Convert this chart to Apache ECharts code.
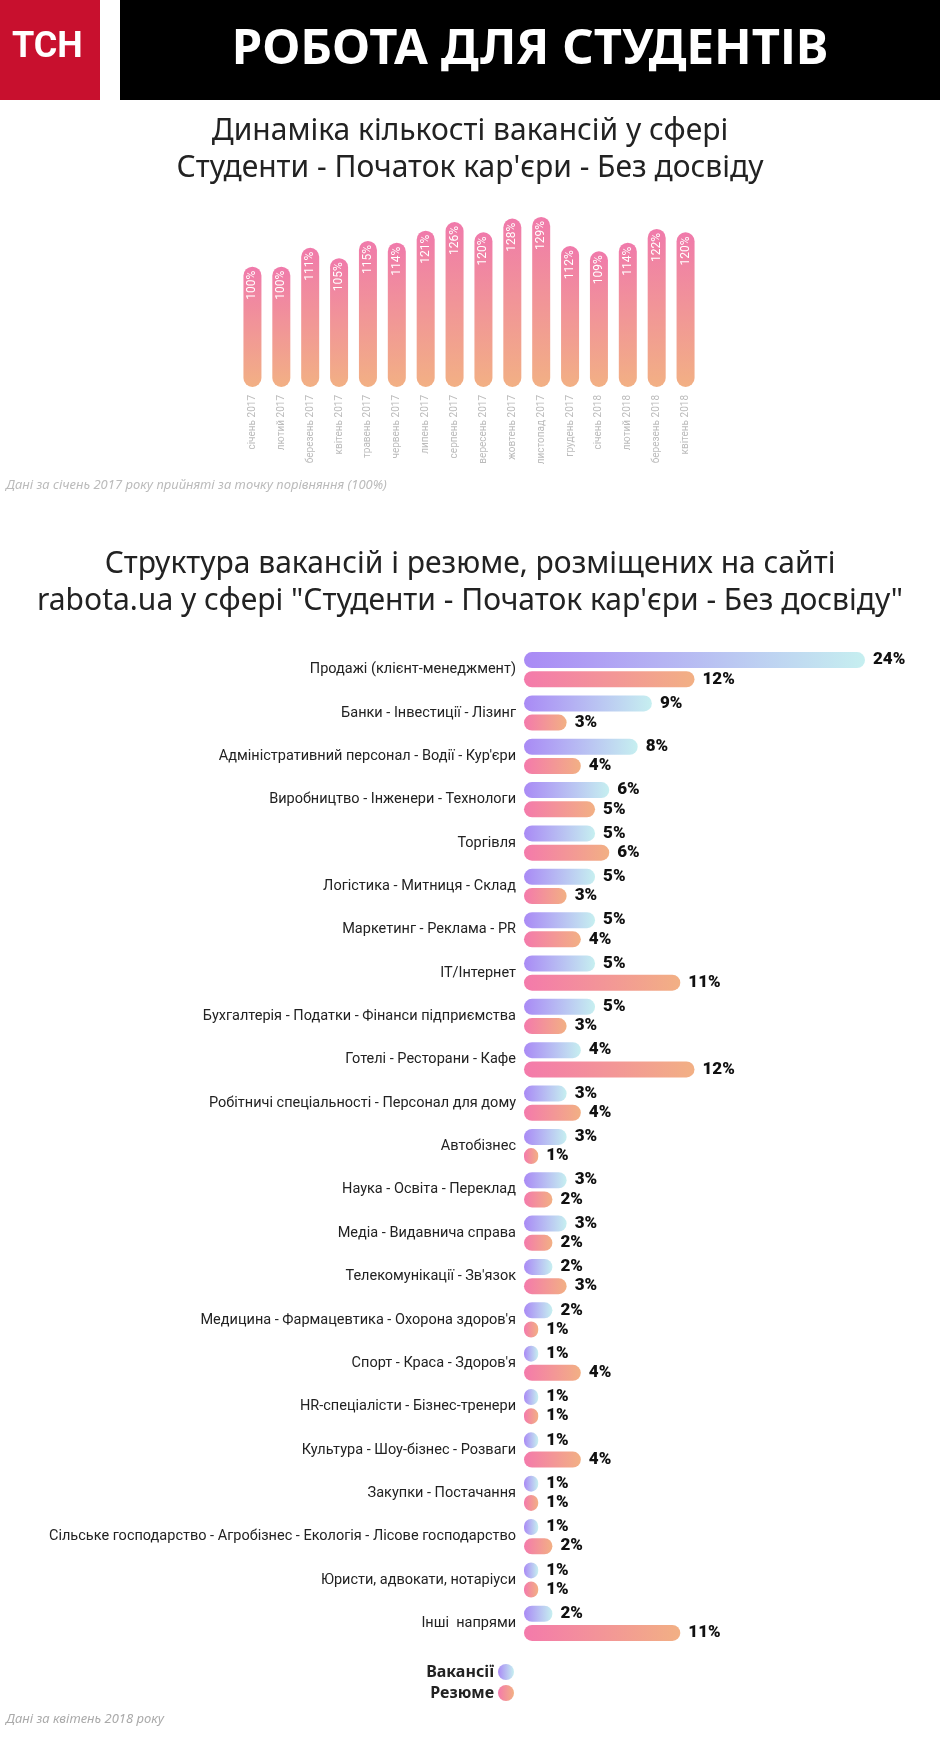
<!DOCTYPE html>
<html>
<head>
<meta charset="utf-8">
<script src="https://cdn.jsdelivr.net/npm/echarts@6/dist/echarts.min.js"></script>
<style>
  html, body { margin: 0; padding: 0; background: #fff; }
  #main { width: 940px; height: 1745px; }
</style>
</head>
<body>
<div id="main"></div>
<script>
// динаміка вакансій
var months = ['січень 2017', 'лютий 2017', 'березень 2017', 'квітень 2017', 'травень 2017', 'червень 2017',
  'липень 2017', 'серпень 2017', 'вересень 2017', 'жовтень 2017', 'листопад 2017', 'грудень 2017',
  'січень 2018', 'лютий 2018', 'березень 2018', 'квітень 2018']
var dynamics = [100, 100, 111, 105, 115, 114, 121, 126, 120, 128, 129, 112, 109, 114, 122, 120]

// структура вакансій і резюме
var spheres = ['Продажі (клієнт-менеджмент)', 'Банки - Інвестиції - Лізинг', 'Адміністративний персонал - Водії - Кур\'єри',
  'Виробництво - Інженери - Технологи', 'Торгівля', 'Логістика - Митниця - Склад', 'Маркетинг - Реклама - PR',
  'IT/Інтернет', 'Бухгалтерія - Податки - Фінанси підприємства', 'Готелі - Ресторани - Кафе',
  'Робітничі спеціальності - Персонал для дому', 'Автобізнес', 'Наука - Освіта - Переклад', 'Медіа - Видавнича справа',
  'Телекомунікації - Зв\'язок', 'Медицина - Фармацевтика - Охорона здоров\'я', 'Спорт - Краса - Здоров\'я',
  'HR-спеціалісти - Бізнес-тренери', 'Культура - Шоу-бізнес - Розваги', 'Закупки - Постачання',
  'Сільське господарство - Агробізнес - Екологія - Лісове господарство', 'Юристи, адвокати, нотаріуси', 'Інші  напрями']
var vacancies = [24, 9, 8, 6, 5, 5, 5, 5, 5, 4, 3, 3, 3, 3, 2, 2, 1, 1, 1, 1, 1, 1, 2]
var resumes = [12, 3, 4, 5, 6, 3, 4, 11, 3, 12, 4, 1, 2, 2, 3, 1, 4, 1, 4, 1, 2, 1, 11]

var chart = echarts.init(document.getElementById('main'))

var pinkV = new echarts.graphic.LinearGradient(0, 0, 0, 1, [
  { offset: 0, color: '#f07aab' }, { offset: 1, color: '#f2b084' }])
var vacGrad = new echarts.graphic.LinearGradient(0, 0, 1, 0, [
  { offset: 0, color: '#a98af5' }, { offset: 1, color: '#c6eff0' }])
var resGrad = new echarts.graphic.LinearGradient(0, 0, 1, 0, [
  { offset: 0, color: '#f47aab' }, { offset: 1, color: '#f2b084' }])

var valLabel = {
  show: true, position: 'right', distance: 8,
  formatter: '{c}%', fontFamily: 'Roboto', fontWeight: 900, fontSize: 17, color: '#111'
}

var option = {
  backgroundColor: '#fff',
  animation: false,
  title: [{
    text: 'Динаміка кількості вакансій у сфері\nСтуденти - Початок кар\'єри - Без досвіду',
    left: 'center', top: 108,
    textStyle: { fontFamily: 'Noto Sans', fontSize: 30, fontWeight: 'normal', color: '#222', lineHeight: 37 }
  }, {
    text: 'Структура вакансій і резюме, розміщених на сайті\nrabota.ua у сфері "Студенти - Початок кар\'єри - Без досвіду"',
    left: 'center', top: 541,
    textStyle: { fontFamily: 'Noto Sans', fontSize: 30, fontWeight: 'normal', color: '#222', lineHeight: 37 }
  }],
  grid: [
    { left: 238, right: 240, top: 198, bottom: 1358 },
    { left: 524, right: 75, top: 648, bottom: 100 }
  ],
  xAxis: [{
    gridIndex: 0, type: 'category', data: months,
    axisLine: { show: false }, axisTick: { show: false },
    axisLabel: { rotate: 90, interval: 0, color: '#bbb', fontSize: 10, fontFamily: 'Roboto', margin: 8 }
  }, {
    gridIndex: 1, type: 'value', min: 0, max: 24, show: false
  }],
  yAxis: [{
    gridIndex: 0, type: 'value', min: 30, max: 140, show: false
  }, {
    gridIndex: 1, type: 'category', data: spheres, inverse: true,
    axisLine: { show: false }, axisTick: { show: false },
    axisLabel: { color: '#222', fontSize: 14.5, fontFamily: 'Roboto', margin: 8 }
  }],
  series: [{
    type: 'bar', xAxisIndex: 0, yAxisIndex: 0, data: dynamics,
    barWidth: 18,
    itemStyle: { color: pinkV, borderRadius: 9 },
    label: {
      show: true, position: 'insideTop', rotate: 90, align: 'right', verticalAlign: 'middle',
      distance: 4, formatter: '{c}%', color: '#fff', fontSize: 12, fontFamily: 'Roboto'
    }
  }, {
    name: 'Вакансії', type: 'bar', xAxisIndex: 1, yAxisIndex: 1, data: vacancies,
    barWidth: 16, barGap: '20%',
    itemStyle: { color: vacGrad, borderRadius: 8 },
    label: valLabel
  }, {
    name: 'Резюме', type: 'bar', xAxisIndex: 1, yAxisIndex: 1, data: resumes,
    barWidth: 16,
    itemStyle: { color: resGrad, borderRadius: 8 },
    label: valLabel
  }],
  graphic: [
    // шапка
    { type: 'rect', left: 0, top: 0, shape: { width: 100, height: 100 }, style: { fill: '#c8102e' } },
    { type: 'text', left: 12, top: 30, style: { text: 'ТСН', fill: '#fff', font: 'bold 36px Roboto' } },
    { type: 'rect', left: 120, top: 0, shape: { width: 820, height: 100 }, style: { fill: '#000' } },
    { type: 'text', x: 530, y: 50, style: { text: 'РОБОТА ДЛЯ СТУДЕНТІВ', fill: '#fff', font: 'bold 49px "Noto Sans"', align: 'center', verticalAlign: 'middle' } },
    { type: 'text', left: 6, top: 479, style: { text: 'Дані за січень 2017 року прийняті за точку порівняння (100%)', fill: '#bbb', font: 'italic 13px "Noto Sans"' } },
    // легенда
    { type: 'text', x: 494, y: 1672, style: { text: 'Вакансії', fill: '#222', font: 'bold 16px "Noto Sans"', align: 'right', verticalAlign: 'middle' } },
    { type: 'circle', shape: { cx: 506, cy: 1672, r: 8 }, style: { fill: vacGrad } },
    { type: 'text', x: 494, y: 1693, style: { text: 'Резюме', fill: '#222', font: 'bold 16px "Noto Sans"', align: 'right', verticalAlign: 'middle' } },
    { type: 'circle', shape: { cx: 506, cy: 1693, r: 8 }, style: { fill: resGrad } },
    { type: 'text', left: 6, top: 1713, style: { text: 'Дані за квітень 2018 року', fill: '#aaa', font: 'italic 13px "Noto Sans"' } }
  ]
}

chart.setOption(option)
</script>
</body>
</html>
